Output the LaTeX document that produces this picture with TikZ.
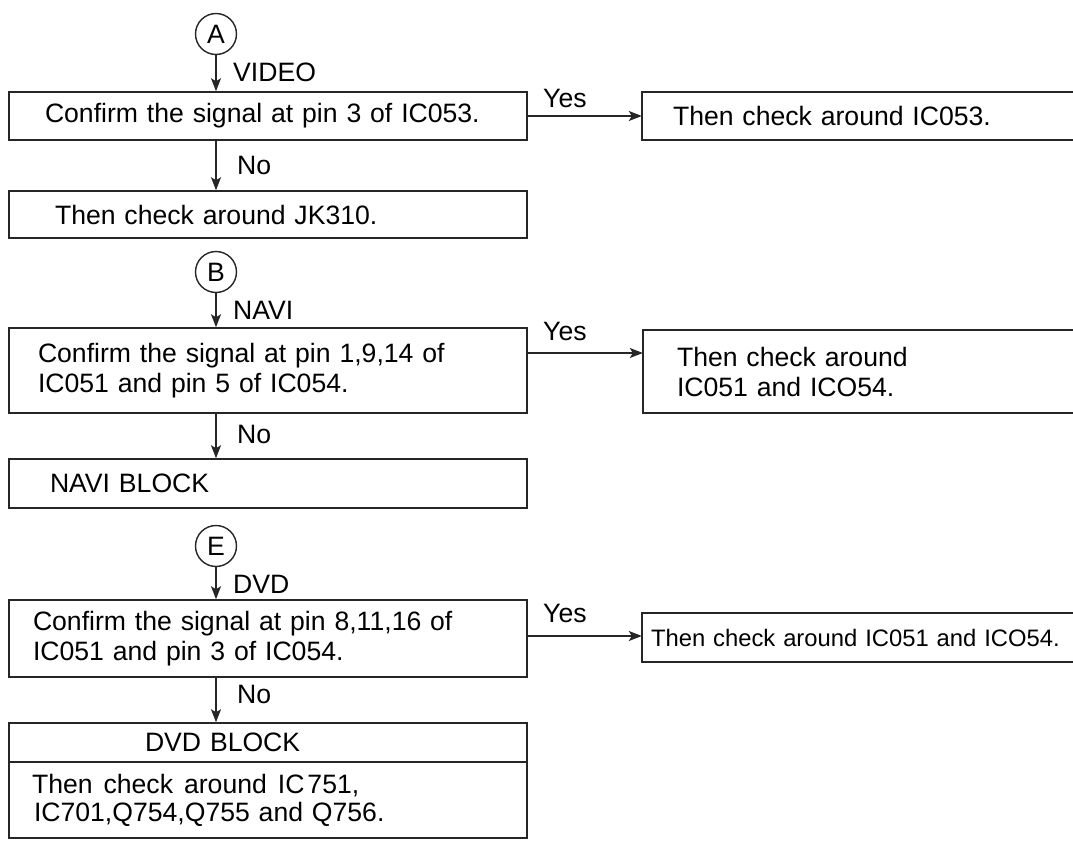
\documentclass[tikz,border=0pt]{standalone}
\usepackage{fontspec}
\setmainfont{Liberation Sans}
\usetikzlibrary{arrows.meta}
\begin{document}
\begin{tikzpicture}[x=1pt,y=-1pt,
  every node/.style={font=\fontsize{26.6pt}{30pt}\selectfont, inner sep=0pt},
  box/.style={draw=black!85, line width=1.5pt, rectangle, align=left},
  openbox/.style={rectangle, align=left},
  edge/.style={draw=black!85, line width=1.5pt},
  lbl/.style={anchor=west},
  arr/.style={draw=black!85, line width=1.4pt, -{Stealth[length=13pt,width=10pt,inset=3pt]}},
  conn/.style={circle, draw=black!85, line width=1.4pt, minimum size=41pt}
]
\useasboundingbox (0,0) rectangle (1073,842);

% ---- section A ----
\node[conn] (A) at (216,34) {A};
\node[box, minimum height=48pt, text width=446pt, inner xsep=36pt] (b1) at (268,116) {Confirm the signal at pin 3 of IC053.};
\node[box, minimum height=47pt, text width=426pt, inner xsep=46pt] (b2) at (268,214.5) {Then check around JK310.};
\node[openbox, minimum height=48pt, text width=369pt, inner xsep=31pt] (r1) at (857.5,116) {Then check around IC053.};
\draw[edge] (r1.north east) -- (r1.north west) -- (r1.south west) -- (r1.south east);

% ---- section B ----
\node[conn] (B) at (216,272) {B};
\node[box, minimum height=85pt, text width=460pt, inner xsep=29pt] (b3) at (268,370.5) {Confirm the signal at pin 1,9,14 of\\IC051 and pin 5 of IC054.};
\node[box, minimum height=49pt, text width=436pt, inner xsep=41pt] (b4) at (268,483.5) {NAVI BLOCK};
\node[openbox, minimum height=83pt, text width=362pt, inner xsep=34pt] (r2) at (858,371.5) {Then check around\\IC051 and ICO54.};
\draw[edge] (r2.north east) -- (r2.north west) -- (r2.south west) -- (r2.south east);

% ---- section E ----
\node[conn] (E) at (216,546) {E};
\node[box, minimum height=77pt, text width=470pt, inner xsep=24pt] (b5) at (268,638.5) {Confirm the signal at pin 8,11,16 of\\IC051 and pin 3 of IC054.};
\node[box, minimum height=39pt, text width=246pt, inner xsep=136pt] (b6a) at (268,742.5) {DVD BLOCK};
\node[box, minimum height=76pt, text width=472pt, inner xsep=23pt, font=\fontsize{26.6pt}{28pt}\selectfont] (b6b) at (268,800) {{\spaceskip=11pt plus 1pt Then check around IC\kern3pt751,}\\\hspace*{2pt}IC701,Q754,Q755 and Q756.};
\node[openbox, minimum height=49pt, text width=413pt, inner xsep=9pt, font=\fontsize{23.8pt}{28pt}\selectfont] (r3) at (857.5,637.5) {Then check around IC051 and ICO54.};
\draw[edge] (r3.north east) -- (r3.north west) -- (r3.south west) -- (r3.south east);

% ---- connectors ----
\coordinate (y1) at (0,116);
\coordinate (y2) at (0,353);
\coordinate (y3) at (0,636);
\draw[arr] (A) -- (b1.north -| A);
\draw[arr] (b1.south -| A) -- (b2.north -| A);
\draw[arr] (b1.east |- y1) -- (r1.west |- y1);
\draw[arr] (B) -- (b3.north -| B);
\draw[arr] (b3.south -| B) -- (b4.north -| B);
\draw[arr] (b3.east |- y2) -- (r2.west |- y2);
\draw[arr] (E) -- (b5.north -| E);
\draw[arr] (b5.south -| E) -- (b6a.north -| E);
\draw[arr] (b5.east |- y3) -- (r3.west |- y3);

% ---- labels ----
\node[lbl] (lv) at (233,72) {VIDEO};
\node[lbl] (ln1) at (237,165) {No};
\node[lbl] (ly1) at (543,98) {Yes};
\node[lbl] (lnavi) at (233,310) {NAVI};
\node[lbl] (ln2) at (237,434) {No};
\node[lbl] (ly2) at (543,331) {Yes};
\node[lbl] (ld) at (233,584) {DVD};
\node[lbl] (ln3) at (237,694) {No};
\node[lbl] (ly3) at (543,613) {Yes};
\end{tikzpicture}
\end{document}
